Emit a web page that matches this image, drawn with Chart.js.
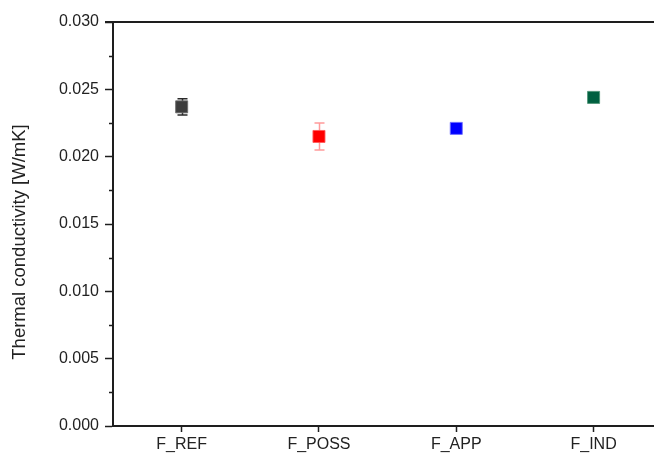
<!DOCTYPE html>
<html>
<head>
<meta charset="utf-8">
<script src="https://cdn.jsdelivr.net/npm/chart.js@4/dist/chart.umd.min.js"></script>
<style>
  html, body { margin: 0; padding: 0; background: #fff; overflow: hidden; }
  #wrap { width: 654px; height: 457px; }
</style>
</head>
<body>
<div id="wrap"><canvas id="c" width="654" height="457"></canvas></div>
<script>
// Samples and measured thermal conductivity (W/mK) with standard deviation
const categories = ['F_REF', 'F_POSS', 'F_APP', 'F_IND'];
const conductivity = [0.0237, 0.0215, 0.0221, 0.0244];
const deviation = [0.0006, 0.0010, 0.0002, 0.0002];
const yTicks = [0, 0.005, 0.010, 0.015, 0.020, 0.025, 0.030];
const yTitle = 'Thermal conductivity [W/mK]';

const markerColors = ['#3d3d3d', '#ff0000', '#0000ff', '#006040'];
const markerEdges = ['rgba(110,110,110,0.9)', 'rgba(255,90,90,0.9)', 'rgba(110,110,255,0.9)', 'rgba(80,150,120,0.9)'];
const errColors = ['#2a2a2a', '#ff9a9a', '#9a9aff', '#5a9a80'];

const FONT = '"Liberation Sans", Arial, sans-serif';
const AXIS = '#1e1e1e';

// Error bars (behind markers), minor ticks, top frame line and axis title
const decorations = {
  id: 'decorations',
  beforeDatasetsDraw(chart) {
    const { ctx, scales: { x, y } } = chart;
    ctx.save();
    conductivity.forEach((v, i) => {
      const px = Math.round(x.getPixelForValue(i)) + 0.5;
      const top = y.getPixelForValue(v + deviation[i]);
      const bot = y.getPixelForValue(v - deviation[i]);
      ctx.strokeStyle = errColors[i];
      ctx.lineWidth = 1.5;
      ctx.beginPath();
      ctx.moveTo(px, top); ctx.lineTo(px, bot);
      ctx.moveTo(px - 5, top); ctx.lineTo(px + 5, top);
      ctx.moveTo(px - 5, bot); ctx.lineTo(px + 5, bot);
      ctx.stroke();
    });
    ctx.restore();
  },
  afterDraw(chart) {
    const { ctx, chartArea, scales: { y } } = chart;
    ctx.save();
    ctx.strokeStyle = AXIS;
    ctx.lineWidth = 2;
    ctx.beginPath();
    ctx.moveTo(chartArea.left - 8, chartArea.top);
    ctx.lineTo(chart.width, chartArea.top);
    ctx.stroke();
    ctx.lineWidth = 1.5;
    ctx.beginPath();
    for (let k = 0; k < yTicks.length - 1; k++) {
      const mid = (yTicks[k] + yTicks[k + 1]) / 2;
      const py = Math.round(y.getPixelForValue(mid)) + 0.5;
      ctx.moveTo(chartArea.left - 4, py);
      ctx.lineTo(chartArea.left, py);
    }
    ctx.stroke();

    ctx.translate(20, 242);
    ctx.rotate(-Math.PI / 2);
    ctx.fillStyle = '#222';
    ctx.font = '18.5px ' + FONT;
    ctx.textAlign = 'center';
    ctx.textBaseline = 'middle';
    ctx.fillText(yTitle, 0, 0);
    ctx.restore();
  }
};

new Chart(document.getElementById('c'), {
  type: 'scatter',
  data: {
    datasets: [{
      data: conductivity.map((v, i) => ({ x: i, y: v })),
      pointStyle: 'rect',
      pointRadius: 8.5,
      pointHoverRadius: 8.5,
      pointBackgroundColor: markerColors,
      pointBorderColor: markerEdges,
      pointBorderWidth: 1
    }]
  },
  options: {
    responsive: false,
    animation: false,
    events: [],
    layout: { autoPadding: false, padding: { top: 22, right: 0, left: 0, bottom: 0 } },
    plugins: { legend: { display: false }, tooltip: { enabled: false } },
    scales: {
      x: {
        type: 'linear',
        min: -0.5,
        max: 3.44,
        afterBuildTicks(axis) { axis.ticks = categories.map((_, i) => ({ value: i })); },
        afterFit(axis) { axis.height = 31; axis.paddingLeft = 0; axis.paddingRight = 0; },
        ticks: {
          callback: (v) => categories[v] ?? '',
          color: '#222',
          font: { family: FONT, size: 16 },
          padding: 3,
          maxRotation: 0,
          autoSkip: false
        },
        grid: { drawOnChartArea: false, tickLength: 6, tickColor: AXIS, tickWidth: 1.5 },
        border: { color: AXIS, width: 2 }
      },
      y: {
        min: 0,
        max: 0.030,
        afterBuildTicks(axis) { axis.ticks = yTicks.map(v => ({ value: v })); },
        afterFit(axis) { axis.width = 113; axis.paddingTop = 0; axis.paddingBottom = 0; },
        ticks: {
          callback: (v) => v.toFixed(3),
          color: '#222',
          font: { family: FONT, size: 16 },
          padding: 6
        },
        grid: { drawOnChartArea: false, tickLength: 8, tickColor: AXIS, tickWidth: 1.5 },
        border: { color: AXIS, width: 2 }
      }
    }
  },
  plugins: [decorations]
});
</script>
</body>
</html>
